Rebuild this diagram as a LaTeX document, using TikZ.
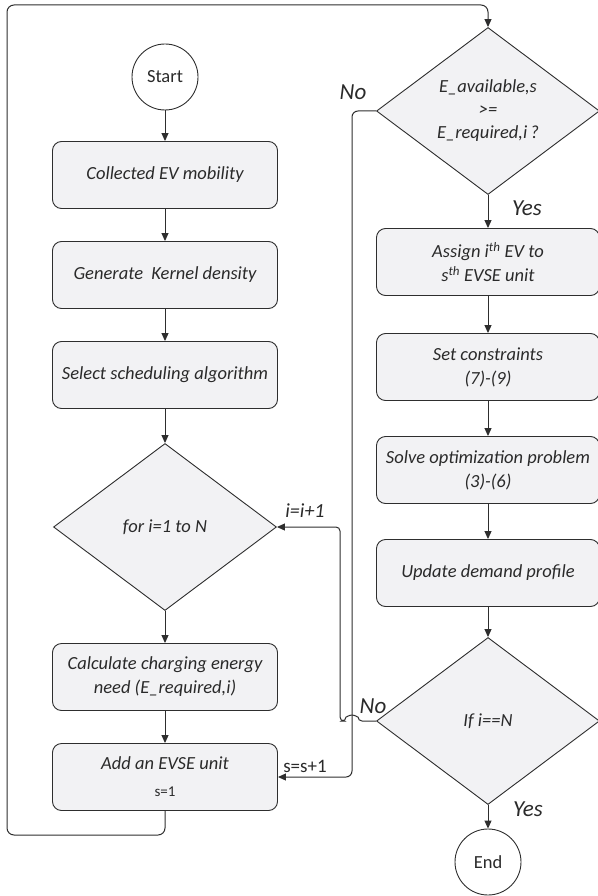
\documentclass[tikz,border=0pt]{standalone}
\usepackage{fontspec}
\setmainfont{Carlito}
\usetikzlibrary{shapes.geometric,arrows.meta}
\definecolor{ln}{HTML}{2E2E2E}
\definecolor{bx}{HTML}{F2F2F4}
\definecolor{tx}{HTML}{2A2A2A}
\begin{document}
\begin{tikzpicture}[x=1pt,y=-1pt,
  every node/.style={text=tx},
  proc/.style={draw=ln,line width=0.9pt,fill=bx,rounded corners=9pt,minimum width=225pt,minimum height=67pt,inner sep=2pt,align=center,font=\fontsize{18.5}{24}\selectfont\itshape},
  dec/.style={draw=ln,line width=0.9pt,fill=bx,diamond,minimum width=223pt,minimum height=167pt,inner sep=0pt,align=center,font=\fontsize{18.5}{23}\selectfont\itshape},
  term/.style={draw=ln,line width=0.9pt,circle,minimum size=66pt,inner sep=0pt,font=\fontsize{18.5}{22}\selectfont},
  lbl/.style={font=\fontsize{23}{26}\selectfont\itshape,inner sep=1pt},
  slbl/.style={font=\fontsize{20}{22}\selectfont\itshape,inner sep=1pt},
  arr/.style={draw=ln,line width=1pt,-{Triangle[length=8pt,width=7pt]}}]
\useasboundingbox (0,0) rectangle (597,896);
% left column
\node[term] (start) at (165,77) {Start};
\node[proc] (coll) at (165,175) {Collected EV mobility};
\node[proc] (gen) at (165,275) {Generate\ \ Kernel density};
\node[proc] (sel) at (165,375) {Select scheduling algorithm};
\node[dec] (for) at (165,527) {for i=1 to N};
\node[proc] (calc) at (165,677) {Calculate charging energy\\need (E\_required,i)};
\node[proc] (add) at (165,777) {Add an EVSE unit\\[3pt]{\upshape\fontsize{15}{17}\selectfont s=1}};
% right column
\node[dec] (d1) at (488,111) {E\_available,s\\{>=}\\E\_required,i\,?};
\node[proc,minimum width=223pt] (asg) at (488,262) {Assign i\textsuperscript{th} EV to\\s\textsuperscript{th} EVSE unit};
\node[proc,minimum width=223pt] (con) at (488,367) {Set constraints\\(7)-(9)};
\node[proc,minimum width=223pt] (sol) at (488,470) {Solve optimization problem\\(3)-(6)};
\node[proc,minimum width=223pt] (upd) at (488,573) {Update demand profile};
\node[dec] (d2) at (488,721) {If i==N};
\node[term] (end) at (488,862) {End};
% connectors
\draw[arr] (start) -- (coll);
\draw[arr] (coll) -- (gen);
\draw[arr] (gen) -- (sel);
\draw[arr] (sel) -- (for);
\draw[arr] (for) -- (calc);
\draw[arr] (calc) -- (add);
\draw[arr,rounded corners=7pt] (add.south) -- (165,835) -- (7,835) -- (7,5) -- (488,5) -- (d1.north);
\draw[arr] (d1) -- (asg);
\draw[arr] (asg) -- (con);
\draw[arr] (con) -- (sol);
\draw[arr] (sol) -- (upd);
\draw[arr] (upd) -- (d2);
\draw[arr] (d2) -- (end);
\draw[arr,rounded corners=6pt] (d1.west) -- (352,111) -- (352,777) -- (add.east);
\draw[arr,rounded corners=4pt] (d2.west) -- (358,721) arc[start angle=0,end angle=180,radius=6pt] -- (340,721) -- (340,527) -- (for.east);
% labels
\node[lbl] (lno1) at (353,92) {No};
\node[lbl] (lyes1) at (527,208) {Yes};
\node[lbl] (lno2) at (373,706) {No};
\node[lbl] (lyes2) at (528,809) {Yes};
\node[slbl] (lii) at (305,511) {i=i+1};
\node[slbl,font=\fontsize{19}{21}\selectfont] (lss) at (305,766) {s=s+1};
\end{tikzpicture}
\end{document}
